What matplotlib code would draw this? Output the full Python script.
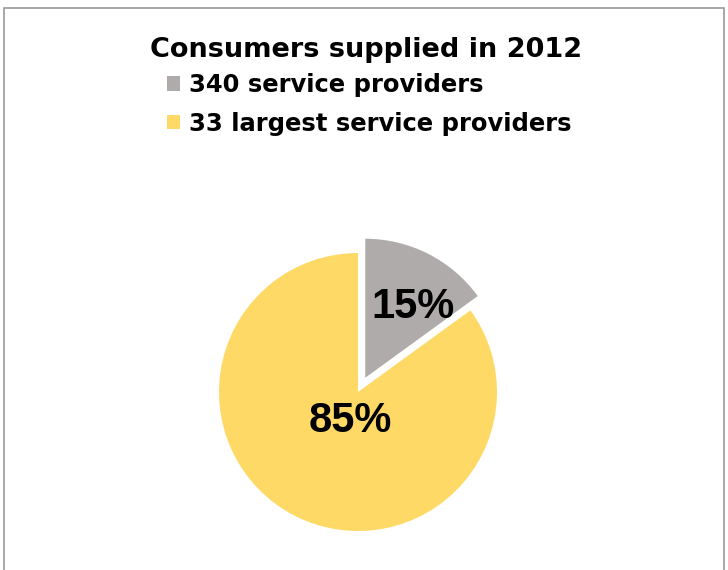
import matplotlib.pyplot as plt
from matplotlib.patches import Rectangle

labels = ['340 service providers', '33 largest service providers']
shares = [15, 85]
colors = ['#AFABAB', '#FFD966']
explode = [16, 0]  # pie explode is in data units here

W, H = 728, 570
fig = plt.figure(figsize=(W / 100, H / 100), dpi=100)
ax = fig.add_axes([0, 0, 1, 1])

wedges, texts, autotexts = ax.pie(
    shares, colors=colors, explode=explode, startangle=90, counterclock=False,
    center=(358, H - 392), radius=139, autopct='%d%%',
    wedgeprops=dict(linewidth=0), frame=True)
ax.axis('off')
ax.set_xlim(0, W)
ax.set_ylim(0, H)
ax.set_aspect('equal')

autotexts[0].set_position((413, H - 307))
autotexts[1].set_position((350, H - 421))
for t in autotexts:
    t.set_fontfamily('Liberation Sans')
    t.set_fontweight('bold')
    t.set_fontsize(30)
    t.set_color('black')

fig.text(366 / W, 1 - 50 / H, 'Consumers supplied in 2012', ha='center', va='center',
         fontsize=19.5, fontweight='bold', color='black')

leg = fig.legend(wedges, labels, loc='upper left', bbox_to_anchor=(167 / W, 1 - 73 / H),
                 frameon=False, fontsize=17.5, handlelength=0.55, handleheight=0.55,
                 handletextpad=0.35, labelspacing=0.6, borderaxespad=0, borderpad=0)
for t in leg.get_texts():
    t.set_fontweight('bold')

fig.patches.append(Rectangle((4 / W, -0.05), 720 / W, 1.05 - 8 / H, transform=fig.transFigure,
                             fill=False, edgecolor='#9a9a9a', linewidth=1.2))

fig.savefig('out.png', dpi=100)
